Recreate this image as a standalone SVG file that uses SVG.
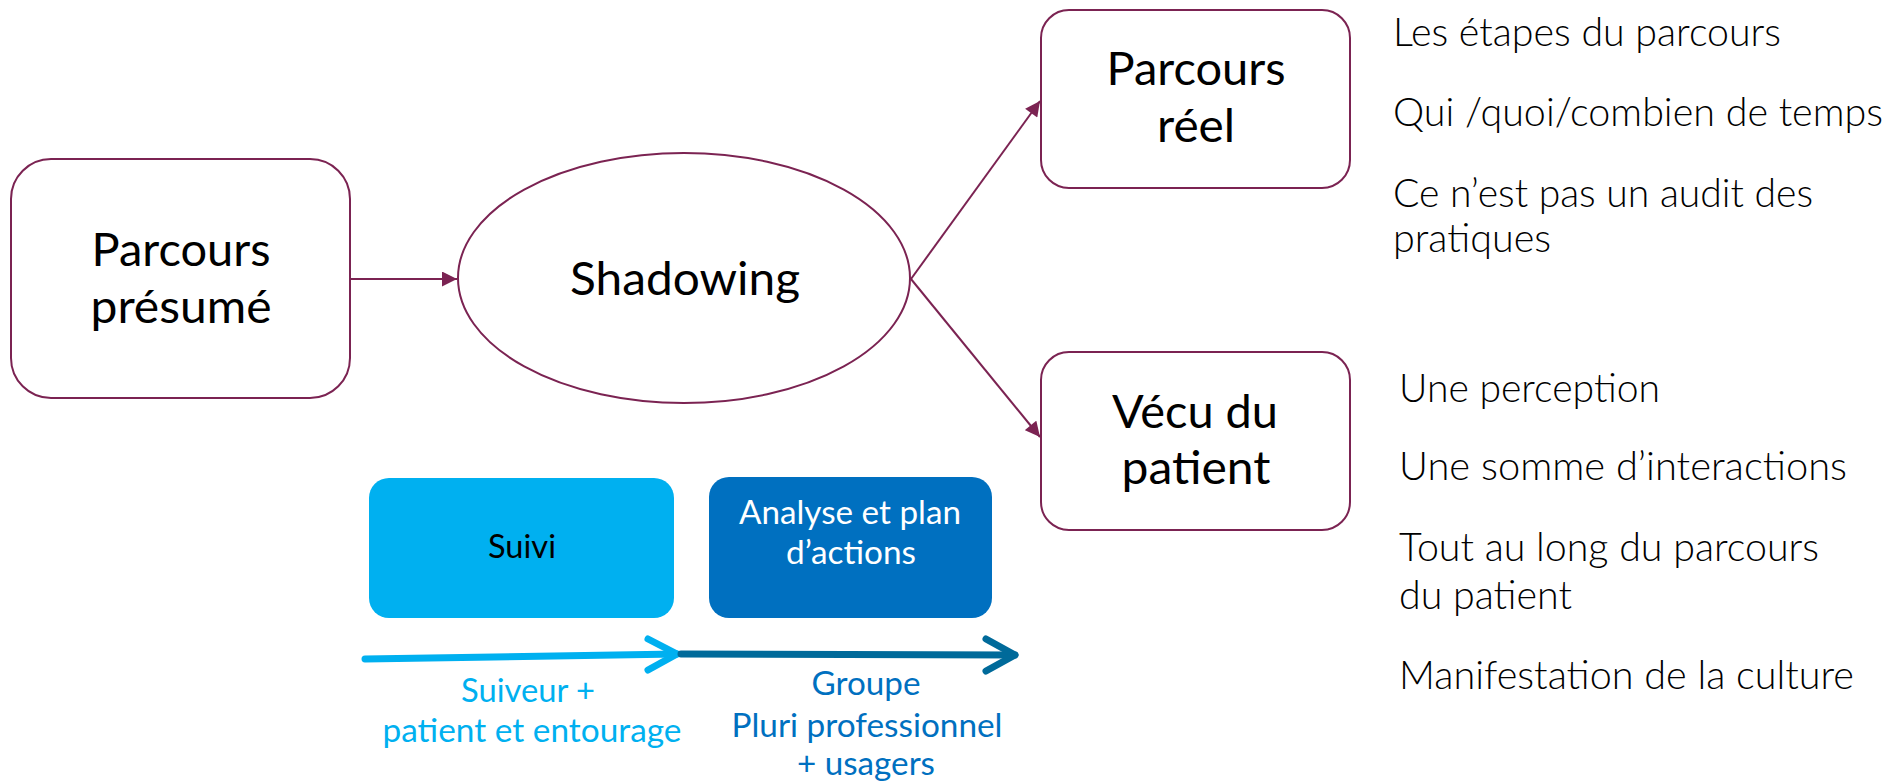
<svg xmlns="http://www.w3.org/2000/svg" width="1904" height="783" viewBox="0 0 1904 783">
<defs>
<style>
.node{fill:#fff;stroke:#7B2352;stroke-width:2}
.conn{stroke:#7B2352;stroke-width:2;fill:none}
.t{font-family:Lato,"Open Sans","Liberation Sans",sans-serif;fill:#000}
.big{font-size:46px;text-anchor:middle}
.side{font-size:39px;font-weight:300}
.mid{font-size:33px;text-anchor:middle}
</style>
<marker id="ah" viewBox="0 0 10 10" refX="10" refY="5" markerWidth="8" markerHeight="7.5" markerUnits="strokeWidth" orient="auto">
<path d="M0,0 L10,5 L0,10 z" fill="#7B2352"/>
</marker>
</defs>
<rect width="1904" height="783" fill="#fff"/>
<g id="connectors">
<line class="conn" x1="350" y1="279" x2="457" y2="279" marker-end="url(#ah)"/>
<line class="conn" x1="911" y1="279" x2="1040" y2="101" marker-end="url(#ah)"/>
<line class="conn" x1="911" y1="279" x2="1040" y2="437" marker-end="url(#ah)"/>
<g id="arrow-suivi" stroke="#00B0F0" stroke-width="7" fill="none" stroke-linecap="round" stroke-linejoin="round">
<line x1="365" y1="659" x2="677" y2="654"/>
<polyline points="648,639 677,654 648,670"/>
</g>
<g id="arrow-analyse" stroke="#006A9A" stroke-width="7" fill="none" stroke-linecap="round" stroke-linejoin="round">
<line x1="681" y1="654" x2="1015" y2="655"/>
<polyline points="986,639 1015,655 986,671"/>
</g>
</g>
<g id="node-presume">
<rect class="node" x="11" y="159" width="339" height="239" rx="40"/>
<text class="t big" x="181" y="266" textLength="179" lengthAdjust="spacingAndGlyphs">Parcours</text>
<text class="t big" x="181" y="323" textLength="181" lengthAdjust="spacingAndGlyphs">présumé</text>
</g>
<g id="node-shadowing">
<ellipse class="node" cx="684" cy="278" rx="226" ry="125"/>
<text class="t big" x="685" y="295" textLength="230" lengthAdjust="spacingAndGlyphs">Shadowing</text>
</g>
<g id="node-reel">
<rect class="node" x="1041" y="10" width="309" height="178" rx="28"/>
<text class="t big" x="1196" y="85" textLength="179" lengthAdjust="spacingAndGlyphs">Parcours</text>
<text class="t big" x="1196" y="142" textLength="78" lengthAdjust="spacingAndGlyphs">réel</text>
</g>
<g id="node-vecu">
<rect class="node" x="1041" y="352" width="309" height="178" rx="28"/>
<text class="t big" x="1195" y="428" textLength="166" lengthAdjust="spacingAndGlyphs">Vécu du</text>
<text class="t big" x="1196" y="484" textLength="149" lengthAdjust="spacingAndGlyphs">patient</text>
</g>
<g id="notes-reel">
<text class="t side" x="1393" y="46" textLength="388" lengthAdjust="spacingAndGlyphs">Les étapes du parcours</text>
<text class="t side" x="1393" y="126" textLength="490" lengthAdjust="spacingAndGlyphs">Qui /quoi/combien de temps</text>
<text class="t side" x="1393" y="207" textLength="420" lengthAdjust="spacingAndGlyphs">Ce n’est pas un audit des</text>
<text class="t side" x="1393" y="252" textLength="158" lengthAdjust="spacingAndGlyphs">pratiques</text>
</g>
<g id="notes-vecu">
<text class="t side" x="1399" y="402" textLength="261" lengthAdjust="spacingAndGlyphs">Une perception</text>
<text class="t side" x="1399" y="480" textLength="448" lengthAdjust="spacingAndGlyphs">Une somme d’interactions</text>
<text class="t side" x="1399" y="561" textLength="420" lengthAdjust="spacingAndGlyphs">Tout au long du parcours</text>
<text class="t side" x="1399" y="609" textLength="173" lengthAdjust="spacingAndGlyphs">du patient</text>
<text class="t side" x="1399" y="689" textLength="455" lengthAdjust="spacingAndGlyphs">Manifestation de la culture</text>
</g>
<g id="node-suivi">
<rect x="369" y="478" width="305" height="140" rx="20" fill="#00B0F0"/>
<text class="t mid" x="522" y="558" textLength="68" lengthAdjust="spacingAndGlyphs">Suivi</text>
</g>
<g id="node-analyse">
<rect x="709" y="477" width="283" height="141" rx="20" fill="#0070C0"/>
<text class="t mid" x="850" y="524" fill="#fff" style="fill:#fff" textLength="222" lengthAdjust="spacingAndGlyphs">Analyse et plan</text>
<text class="t mid" x="851" y="564" style="fill:#fff" textLength="130" lengthAdjust="spacingAndGlyphs">d’actions</text>
</g>
<g id="label-suiveur">
<text class="t mid" x="528" y="702" style="fill:#00B0F0" textLength="134" lengthAdjust="spacingAndGlyphs">Suiveur +</text>
<text class="t mid" x="532" y="742" style="fill:#00B0F0" textLength="299" lengthAdjust="spacingAndGlyphs">patient et entourage</text>
</g>
<g id="label-groupe">
<text class="t mid" x="866" y="695" style="fill:#0070C0" textLength="109" lengthAdjust="spacingAndGlyphs">Groupe</text>
<text class="t mid" x="867" y="737" style="fill:#0070C0" textLength="271" lengthAdjust="spacingAndGlyphs">Pluri professionnel</text>
<text class="t mid" x="866" y="775" style="fill:#0070C0" textLength="138" lengthAdjust="spacingAndGlyphs">+ usagers</text>
</g>
</svg>
